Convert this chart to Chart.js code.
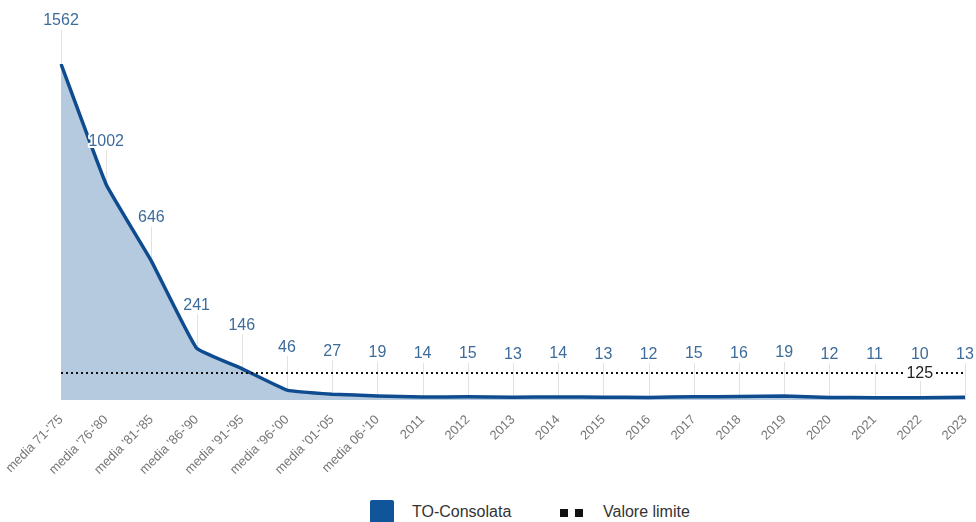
<!DOCTYPE html>
<html>
<head>
<meta charset="utf-8">
<script src="https://cdn.jsdelivr.net/npm/chart.js@4.4.1/dist/chart.umd.min.js"></script>
<style>
  body { margin: 0; background: #fff; font-family: "Liberation Sans", Arial, sans-serif; }
  #wrap { position: relative; width: 976px; height: 522px; overflow: hidden; }
  #legenda { position: absolute; left: 0; top: 500px; width: 976px; height: 30px; }
  .item { position: absolute; top: 0; font-size: 16px; color: #333; line-height: 24px; }
  .box { position: absolute; left: 370px; top: 0; width: 24px; height: 24px; background: #10549a; border-radius: 2px; }
  .sq { position: absolute; top: 9px; width: 8px; height: 8px; background: #111; }
</style>
</head>
<body>
<div id="wrap">
  <canvas id="grafico" width="976" height="490"></canvas>
  <div id="legenda">
    <div class="box"></div>
    <div class="item" style="left:412px">TO-Consolata</div>
    <div class="sq" style="left:560px"></div>
    <div class="sq" style="left:575px"></div>
    <div class="item" style="left:603px">Valore limite</div>
  </div>
</div>
<script>
// categorie sull'asse x
const categorie = [
  "media 71-'75", "media '76-'80", "media '81-'85", "media '86-'90",
  "media '91-'95", "media '96-'00", "media '01-'05", "media 06-'10",
  "2011", "2012", "2013", "2014", "2015", "2016", "2017",
  "2018", "2019", "2020", "2021", "2022", "2023"
];

// valori TO-Consolata
const valoriConsolata = [
  1562, 1002, 646, 241, 146, 46, 27, 19,
  14, 15, 13, 14, 13, 12, 15, 16, 19, 12, 11, 10, 13
];

// valore limite
const valoreLimite = 125;

const coloreLinea = '#0f4c8f';
const coloreArea = '#b5cadf';

// etichette dei valori con linea guida
const etichettePlugin = {
  id: 'etichette',
  beforeDatasetsDraw(chart) {
    const ctx = chart.ctx;
    const meta = chart.getDatasetMeta(0);
    ctx.save();
    ctx.strokeStyle = '#e2e2e2';
    ctx.lineWidth = 1;
    meta.data.forEach(p => {
      const x = Math.round(p.x) + 0.5;
      ctx.beginPath();
      ctx.moveTo(x, p.y - 34);
      ctx.lineTo(x, chart.chartArea.bottom);
      ctx.stroke();
    });
    ctx.restore();
  },
  afterDatasetsDraw(chart) {
    const ctx = chart.ctx;
    const meta = chart.getDatasetMeta(0);
    ctx.save();
    ctx.font = '16px "Liberation Sans", Arial, sans-serif';
    ctx.textAlign = 'center';
    ctx.textBaseline = 'middle';
    ctx.lineJoin = 'round';
    meta.data.forEach((p, i) => {
      const y = p.y - 43;
      ctx.strokeStyle = '#fff';
      ctx.lineWidth = 4;
      ctx.strokeText(valoriConsolata[i], p.x, y);
      ctx.fillStyle = '#3d6c9b';
      ctx.fillText(valoriConsolata[i], p.x, y);
    });

    // etichetta del valore limite
    const metaLim = chart.getDatasetMeta(1);
    const pl = metaLim.data[metaLim.data.length - 2];
    const testo = String(valoreLimite);
    const w = ctx.measureText(testo).width;
    ctx.fillStyle = '#fff';
    ctx.fillRect(pl.x - w / 2 - 2, pl.y - 8, w + 4, 16);
    ctx.fillStyle = '#222';
    ctx.fillText(testo, pl.x, pl.y);
    ctx.restore();
  }
};

const ctx = document.getElementById('grafico').getContext('2d');
new Chart(ctx, {
  type: 'line',
  data: {
    labels: categorie,
    datasets: [
      {
        label: 'TO-Consolata',
        data: valoriConsolata,
        borderColor: coloreLinea,
        backgroundColor: coloreArea,
        borderWidth: 3.5,
        fill: 'origin',
        tension: 0.1,
        pointRadius: 0,
        order: 1
      },
      {
        label: 'Valore limite',
        data: categorie.map(() => valoreLimite),
        borderColor: '#111',
        borderWidth: 2,
        borderDash: [2, 3],
        fill: false,
        pointRadius: 0,
        order: 0
      }
    ]
  },
  options: {
    responsive: false,
    animation: false,
    layout: { padding: { top: 64, left: 61, right: 11, bottom: 0 } },
    plugins: {
      legend: { display: false },
      tooltip: { enabled: false }
    },
    scales: {
      x: {
        grid: { display: false },
        border: { display: false },
        ticks: {
          autoSkip: false,
          minRotation: 45,
          maxRotation: 45,
          padding: 4,
          color: '#777',
          font: { size: 13, family: '"Liberation Sans", Arial, sans-serif' }
        },
        afterFit(scale) {
          scale.height = 90;
          scale.paddingRight = 0;
        }
      },
      y: {
        display: false,
        min: 0,
        max: Math.max(...valoriConsolata)
      }
    }
  },
  plugins: [etichettePlugin]
});
</script>
</body>
</html>
